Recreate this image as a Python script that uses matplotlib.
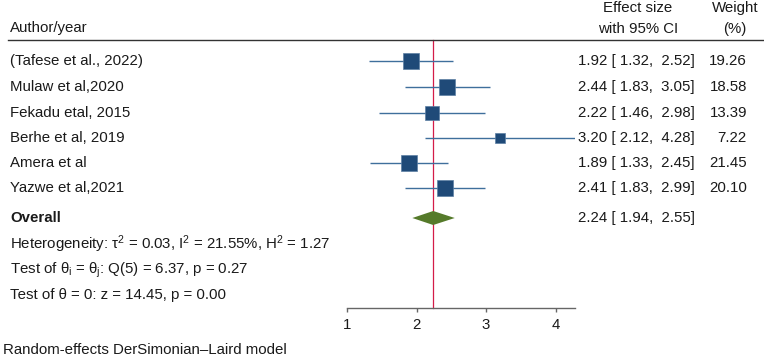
import matplotlib
matplotlib.use("Agg")
import matplotlib.pyplot as plt
from matplotlib.lines import Line2D
import matplotlib.transforms as mtransforms
import numpy as np

plt.rcParams['font.family'] = ['Liberation Sans', 'DejaVu Sans']
plt.rcParams['mathtext.fontset'] = 'custom'
plt.rcParams['mathtext.rm'] = 'Liberation Sans'
plt.rcParams['mathtext.it'] = 'Liberation Sans'
plt.rcParams['mathtext.bf'] = 'Liberation Sans:bold'

studies = ["(Tafese et al., 2022)", "Mulaw et al,2020", "Fekadu etal, 2015",
           "Berhe et al, 2019", "Amera et al", "Yazwe et al,2021"]
effect = [1.92, 2.44, 2.22, 3.20, 1.89, 2.41]
lower = [1.32, 1.83, 1.46, 2.12, 1.33, 1.83]
upper = [2.52, 3.05, 2.98, 4.28, 2.45, 2.99]
weight = [19.26, 18.58, 13.39, 7.22, 21.45, 20.10]
overall = 2.24
overall_lo = 1.94
overall_hi = 2.55
xticks = [1, 2, 3, 4]

W, H = 764, 359
fig = plt.figure(figsize=(W / 100, H / 100), dpi=100)

# layout in pixels
ax_left, ax_right = 347, 575
ax_top, ax_bot = 40, 308
ax = fig.add_axes([ax_left / W, 1 - ax_bot / H, (ax_right - ax_left) / W, (ax_bot - ax_top) / H])
ax.set_xlim(1, 4.28)
ax.set_ylim(ax_bot, ax_top)  # pixel-like row positions

row_y = [61, 87, 113, 138, 163, 188]
overall_y = 218
text_rows = [244, 270, 295]

txt_color = "#1a1a1a"
fs = 10.8

sq_color = "#1f4a78"
ci_color = "#3f6f9c"

for y, e, lo, hi, w in zip(row_y, effect, lower, upper, weight):
    ax.plot([lo, hi], [y, y], color=ci_color, lw=1.0, zorder=2, solid_capstyle='butt')
    side_px = 3.65 * np.sqrt(w)
    ax.plot([e], [y], marker='s', ms=side_px * 0.72, color=sq_color,
            markeredgecolor="#5d7fa3", markeredgewidth=0.5, zorder=3)

# overall diamond
dh = 7
ax.fill([overall_lo, overall, overall_hi, overall],
        [overall_y, overall_y - dh, overall_y, overall_y + dh],
        color="#557a2a", zorder=3, lw=0)

# red line at overall
ax.plot([overall, overall], [ax_top, ax_bot], color="#d41c48", lw=0.9, zorder=1, clip_on=False)

for s in ['top', 'right', 'left']:
    ax.spines[s].set_visible(False)
ax.spines['bottom'].set_color("#666666")
ax.spines['bottom'].set_linewidth(1.0)
ax.set_yticks([])
ax.set_xticks(xticks)
ax.set_xticklabels([str(t) for t in xticks], fontsize=fs, color=txt_color)
ax.tick_params(axis='x', length=3, width=1.0, color="#666666", pad=4)
ax.patch.set_visible(False)

trans = mtransforms.blended_transform_factory(fig.transFigure, ax.transData)

def fx(px):
    return px / W

def fy(py):
    return 1 - py / H

# header
fig.text(fx(10), fy(28), "Author/year", fontsize=fs, color=txt_color, va='center', ha='left')
fig.text(fx(638), fy(8), "Effect size", fontsize=fs, color=txt_color, va='center', ha='center')
fig.text(fx(638), fy(29), "with 95% CI", fontsize=fs, color=txt_color, va='center', ha='center')
fig.text(fx(735), fy(8), "Weight", fontsize=fs, color=txt_color, va='center', ha='center')
fig.text(fx(735), fy(29), "(%)", fontsize=fs, color=txt_color, va='center', ha='center')
fig.add_artist(Line2D([fx(8), 1.0], [fy(40), fy(40)], transform=fig.transFigure,
                      color="#333333", lw=1.0))

for y, name, e, lo, hi, w in zip(row_y, studies, effect, lower, upper, weight):
    ax.text(fx(10), y, name, transform=trans, fontsize=fs, color=txt_color, va='center', ha='left')
    ax.text(fx(695), y, f"{e:.2f} [{lo:5.2f},  {hi:.2f}]", transform=trans, fontsize=fs,
            color=txt_color, va='center', ha='right')
    ax.text(fx(747), y, f"{w:.2f}", transform=trans, fontsize=fs, color=txt_color, va='center', ha='right')

ax.text(fx(10), overall_y, "Overall", transform=trans, fontsize=fs, color=txt_color,
        va='center', ha='left', fontweight='bold')
ax.text(fx(695), overall_y, f"{overall:.2f} [{overall_lo:5.2f},  {overall_hi:.2f}]", transform=trans,
        fontsize=fs, color=txt_color, va='center', ha='right')

ax.text(fx(10), text_rows[0], r"Heterogeneity: $\mathrm{\tau}^{2}$ = 0.03, I$^{2}$ = 21.55%, H$^{2}$ = 1.27",
        transform=trans, fontsize=fs, color=txt_color, va='center', ha='left')
ax.text(fx(10), text_rows[1], r"Test of θ$_{\mathrm{i}}$ = θ$_{\mathrm{j}}$: Q(5) = 6.37, p = 0.27",
        transform=trans, fontsize=fs, color=txt_color, va='center', ha='left')
ax.text(fx(10), text_rows[2], "Test of θ = 0: z = 14.45, p = 0.00",
        transform=trans, fontsize=fs, color=txt_color, va='center', ha='left')

fig.text(fx(3), fy(350), "Random-effects DerSimonian\u2013Laird model", fontsize=fs,
         color=txt_color, va='center', ha='left')

fig.savefig("out.png", dpi=100, facecolor="white")
